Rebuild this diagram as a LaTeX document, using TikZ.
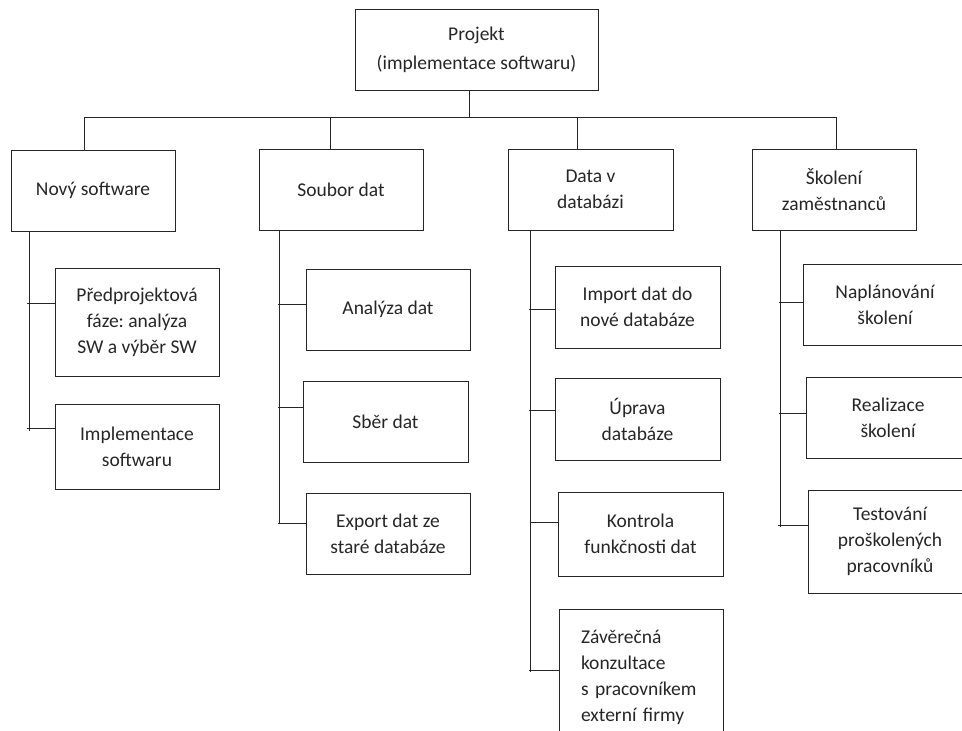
\documentclass[tikz,border=0pt]{standalone}
\usepackage{fontspec}
\setmainfont{Carlito}
\frenchspacing
\definecolor{ink}{HTML}{262626}
\begin{document}
\begin{tikzpicture}[x=1pt,y=-1pt,
  box/.style={draw=ink, line width=1pt, rectangle, inner sep=0pt, align=center,
    text=ink, font=\fontsize{19.5}{26}\selectfont},
  wire/.style={draw=ink, line width=1pt}]
\useasboundingbox (0,0) rectangle (962,731);
\clip (0,0) rectangle (962,731);
% top
\node[box, minimum width=243pt, minimum height=81pt, font=\fontsize{19.5}{29}\selectfont] (top) at (476.5,49.5) {Projekt\\(implementace softwaru)};
% level 1
\node[box, minimum width=164pt, minimum height=81pt] (nov) at (93,190.5) {Nový software};
\node[box, minimum width=164pt, minimum height=81pt] (sou) at (341,189.5) {Soubor dat};
\node[box, minimum width=165pt, minimum height=81pt] (dat) at (590.5,189.5) {Data v\\databázi};
\node[box, minimum width=164pt, minimum height=81pt] (sko) at (834,189.5) {Školení\\zaměstnanců};
% level 2 - Nový software
\node[box, minimum width=164pt, minimum height=108pt] (n1) at (137,322) {Předprojektová\\fáze: analýza\\SW a výběr SW};
\node[box, minimum width=164pt, minimum height=85pt] (n2) at (137,446.5) {Implementace\\softwaru};
% Soubor dat
\node[box, minimum width=164pt, minimum height=81pt] (s1) at (388,309.5) {Analýza dat};
\node[box, minimum width=165pt, minimum height=81pt] (s2) at (385.5,421.5) {Sběr dat};
\node[box, minimum width=164pt, minimum height=81pt] (s3) at (388,533.5) {Export dat ze\\staré databáze};
% Data v databázi
\node[box, minimum width=165pt, minimum height=82pt] (d1) at (637.5,307) {Import dat do\\nové databáze};
\node[box, minimum width=165pt, minimum height=82pt] (d2) at (637.5,419) {Úprava\\databáze};
\node[box, minimum width=165pt, minimum height=84pt] (d3) at (640.5,534) {Kontrola\\funkčnosti dat};
\node[box, minimum width=164pt, minimum height=136pt, align=left, text width=120pt, inner xsep=22pt] (d4) at (641,677) {Závěrečná\\konzultace\\s pracovníkem\\externí firmy};
% Školení
\node[box, minimum width=164pt, minimum height=81pt] (k1) at (885,304.5) {Naplánování\\školení};
\node[box, minimum width=164pt, minimum height=81pt] (k2) at (888,417.5) {Realizace\\školení};
\node[box, minimum width=164pt, minimum height=103pt] (k3) at (890,541.5) {Testování\\proškolených\\pracovníků};
% bus
\coordinate (j0) at (469,117);
\coordinate (bn) at (84,117);
\coordinate (bs) at (330,117);
\coordinate (bd) at (577,117);
\coordinate (bk) at (836,117);
\draw[wire] (top.south -| j0) -- (j0);
\draw[wire] (bn) -- (bk);
\draw[wire] (bn) -- (bn |- nov.north);
\draw[wire] (bs) -- (bs |- sou.north);
\draw[wire] (bd) -- (bd |- dat.north);
\draw[wire] (bk) -- (bk |- sko.north);
% trunks
\coordinate (tn) at (29,431);
\coordinate (ts) at (279,524);
\coordinate (td) at (530,672);
\coordinate (tk) at (780,527);
\draw[wire] (tn |- nov.south) -- (tn);
\draw[wire] (ts |- sou.south) -- (ts);
\draw[wire] (td |- dat.south) -- (td);
\draw[wire] (tk |- sko.south) -- (tk);
% branches
\coordinate (cn1) at (27,303);
\coordinate (cn2) at (27,428);
\coordinate (cs1) at (278,304);
\coordinate (cs2) at (278,407);
\coordinate (cs3) at (278,523);
\coordinate (cd1) at (529,309);
\coordinate (cd2) at (529,410);
\coordinate (cd3) at (531,522);
\coordinate (cd4) at (529,670);
\coordinate (ck1) at (779,302);
\coordinate (ck2) at (779,413);
\coordinate (ck3) at (778,525);
\draw[wire] (cn1) -- (cn1 -| n1.west);
\draw[wire] (cn2) -- (cn2 -| n2.west);
\draw[wire] (cs1) -- (cs1 -| s1.west);
\draw[wire] (cs2) -- (cs2 -| s2.west);
\draw[wire] (cs3) -- (cs3 -| s3.west);
\draw[wire] (cd1) -- (cd1 -| d1.west);
\draw[wire] (cd2) -- (cd2 -| d2.west);
\draw[wire] (cd3) -- (cd3 -| d3.west);
\draw[wire] (cd4) -- (cd4 -| d4.west);
\draw[wire] (ck1) -- (ck1 -| k1.west);
\draw[wire] (ck2) -- (ck2 -| k2.west);
\draw[wire] (ck3) -- (ck3 -| k3.west);
\end{tikzpicture}
\end{document}
